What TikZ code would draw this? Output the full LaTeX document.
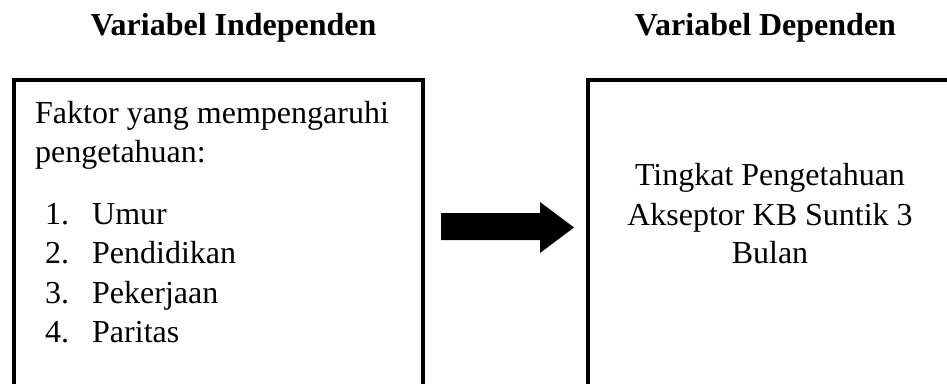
\documentclass[tikz,border=0pt]{standalone}
\usepackage{fontspec}
\setmainfont{Liberation Serif}
\begin{document}
\begin{tikzpicture}[x=1pt,y=-1pt,
  title/.style={font=\fontsize{32}{39}\selectfont\bfseries, anchor=base, inner sep=0},
  body/.style={font=\fontsize{32}{39}\selectfont, anchor=base west, inner sep=0},
  bodyc/.style={font=\fontsize{32}{39}\selectfont, anchor=base, inner sep=0},
  boxline/.style={line width=3.6pt}]
\useasboundingbox (0,0) rectangle (947,383);
\clip (0,0) rectangle (947,383);
% titles
\node[title] (tind) at (233.5,35) {Variabel Independen};
\node[title] (tdep) at (765.5,35) {Variabel Dependen};
% boxes (open at the bottom edge of the picture)
\coordinate (indepNW) at (14,80);
\coordinate (indepSE) at (423,420);
\coordinate (depNW) at (588,80);
\coordinate (depSE) at (990,420);
\draw[boxline] (indepNW) rectangle (indepSE);
\draw[boxline] (depNW) rectangle (depSE);
% left box content
\node[body] (f1) at (35,123) {Faktor yang mempengaruhi};
\node[body] (f2) at (35,162) {pengetahuan:};
\node[body] (n1) at (45,224) {1.};
\node[body] (i1) at (92,224) {Umur};
\node[body] (n2) at (45,263) {2.};
\node[body] (i2) at (92,263) {Pendidikan};
\node[body] (n3) at (45,303) {3.};
\node[body] (i3) at (92,303) {Pekerjaan};
\node[body] (n4) at (45,342) {4.};
\node[body] (i4) at (92,342) {Paritas};
% right box content
\node[bodyc] (d1) at (770,185) {Tingkat Pengetahuan};
\node[bodyc] (d2) at (770,225) {Akseptor KB Suntik 3};
\node[bodyc] (d3) at (770,263) {Bulan};
% block arrow
\fill[black] (441,213) -- (540,213) -- (540,202) -- (574,227.5) -- (540,253) -- (540,240) -- (441,240) -- cycle;
\end{tikzpicture}
\end{document}
